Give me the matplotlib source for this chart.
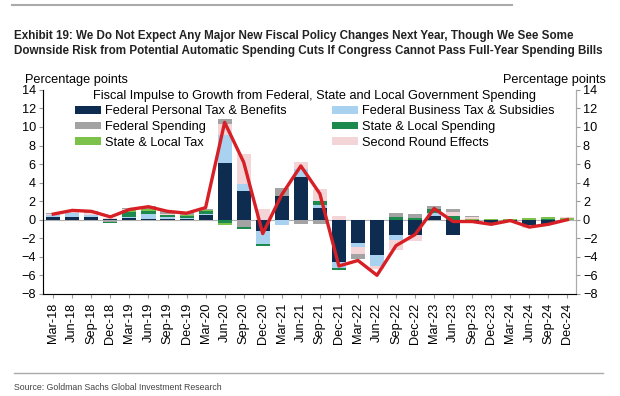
import numpy as np
import matplotlib.pyplot as plt
from matplotlib.lines import Line2D

plt.rcParams['font.family'] = ['Liberation Sans', 'DejaVu Sans']

quarters = ['Mar-18', 'Jun-18', 'Sep-18', 'Dec-18', 'Mar-19', 'Jun-19', 'Sep-19', 'Dec-19',
            'Mar-20', 'Jun-20', 'Sep-20', 'Dec-20', 'Mar-21', 'Jun-21', 'Sep-21', 'Dec-21',
            'Mar-22', 'Jun-22', 'Sep-22', 'Dec-22', 'Mar-23', 'Jun-23', 'Sep-23', 'Dec-23',
            'Mar-24', 'Jun-24', 'Sep-24', 'Dec-24']

fed_personal = [0.3, 0.3, 0.3, 0.1, 0.2, 0.1, 0.1, 0.1, 0.5, 6.1, 3.1, -1.2, 2.5, 4.6, 1.3, -4.6,
                -2.5, -3.8, -1.7, -1.7, 0.4, -1.7, -0.1, -0.5, -0.1, -0.6, -0.5, 0.0]
fed_business = [0.2, 0.4, 0.2, 0.0, 0.1, 0.5, 0.2, 0.1, 0.1, 3.0, 0.8, -1.4, -0.6, 0.9, 0.3, -0.6,
                -0.4, -1.2, -0.5, 0.0, 0.3, 0.0, 0.0, 0.0, 0.0, 0.0, 0.0, 0.0]
fed_spending = [0.1, 0.1, 0.2, -0.2, 0.2, 0.4, 0.3, 0.3, 0.2, 0.6, -0.8, 0.0, 0.9, -0.5, -0.5, 0.0,
                -0.5, 0.0, 0.4, 0.4, 0.4, 0.3, 0.1, 0.0, 0.0, 0.0, 0.0, 0.0]
sl_spending = [0.0, 0.0, 0.0, -0.2, 0.5, 0.3, 0.2, 0.2, 0.3, -0.4, -0.2, -0.2, 0.0, 0.0, 0.4, -0.2,
               0.0, 0.0, 0.3, 0.2, 0.4, 0.4, 0.0, 0.0, 0.0, 0.0, 0.1, 0.0]
sl_tax = [0.0, 0.0, 0.0, 0.0, 0.2, 0.2, 0.0, 0.1, 0.1, -0.2, 0.0, 0.0, 0.0, 0.0, 0.0, 0.0,
          0.0, 0.0, 0.0, 0.0, 0.0, 0.0, 0.1, 0.1, 0.1, 0.2, 0.2, 0.2]
second_round = [0.1, 0.2, 0.2, 0.1, 0.1, 0.0, 0.1, 0.0, 0.0, 1.2, 3.2, 1.2, 0.0, 0.7, 1.3, 0.4,
                -0.8, -0.3, -1.1, -0.6, 0.0, 0.4, 0.2, 0.0, 0.0, -0.3, 0.0, 0.1]
total = [0.6, 1.0, 0.9, 0.3, 1.1, 1.4, 0.9, 0.7, 1.3, 10.5, 6.2, -1.5, 2.7, 5.8, 2.8, -5.0,
         -4.4, -6.0, -2.8, -1.6, 1.2, -0.2, -0.2, -0.5, -0.1, -0.8, -0.5, 0.0]

series = {
    'Federal Personal Tax & Benefits': (fed_personal, '#0d2c50'),
    'Federal Business Tax & Subsidies': (fed_business, '#a9d2f0'),
    'Federal Spending': (fed_spending, '#a3a3a3'),
    'State & Local Spending': (sl_spending, '#1b8a4c'),
    'State & Local Tax': (sl_tax, '#7cc24a'),
    'Second Round Effects': (second_round, '#f3d5d7'),
}
pos_order = ['Federal Personal Tax & Benefits', 'Federal Business Tax & Subsidies',
             'State & Local Spending', 'State & Local Tax', 'Second Round Effects', 'Federal Spending']
neg_order = ['Federal Personal Tax & Benefits', 'Federal Business Tax & Subsidies',
             'Second Round Effects', 'Federal Spending', 'State & Local Spending', 'State & Local Tax']

fs = 9.2
x = np.arange(len(quarters))
fig = plt.figure(figsize=(6.2, 3.96), dpi=100)
ax = fig.add_axes([0.069, 0.258, 0.86, 0.515])

handles = {}
pos_bot = np.zeros(len(x))
for name in pos_order:
    vals, col = series[name]
    v = np.clip(np.array(vals), 0, None)
    handles[name] = ax.bar(x, v, 0.74, bottom=pos_bot, color=col, zorder=2)
    pos_bot += v
neg_bot = np.zeros(len(x))
for name in neg_order:
    vals, col = series[name]
    v = np.clip(np.array(vals), None, 0)
    ax.bar(x, v, 0.74, bottom=neg_bot, color=col, zorder=2)
    neg_bot += v

ax.axhline(0, color='#b0b0b0', lw=0.8, zorder=1)
ax.plot(x, total, color='#d71f26', lw=2.4, zorder=3)

ax.set_xlim(-0.55, 27.45)
ax.set_ylim(-8, 14)
ax.set_yticks(range(-8, 15, 2))
ax.set_xticks(x)
ax.set_xticklabels(quarters, rotation=90, fontsize=fs)
ax.tick_params(axis='y', labelsize=fs, length=3, color='#999999', pad=2)
ax.tick_params(axis='x', length=3, color='#999999')
ax.spines['top'].set_visible(False)
for s in ['left', 'right', 'bottom']:
    ax.spines[s].set_color('#aaaaaa')
ax2 = ax.twinx()
ax2.set_ylim(-8, 14)
ax2.set_yticks(range(-8, 15, 2))
ax2.tick_params(axis='y', labelsize=fs, length=3, color='#999999', pad=2)
ax2.spines['top'].set_visible(False)
ax2.spines['right'].set_color('#aaaaaa')

legend_names = ['Federal Personal Tax & Benefits', 'Federal Spending', 'State & Local Tax',
                'Federal Business Tax & Subsidies', 'State & Local Spending', 'Second Round Effects']
leg = ax.legend([handles[n] for n in legend_names], legend_names, ncol=2, loc='upper center',
                bbox_to_anchor=(0.51, 1.035), frameon=False, fontsize=fs,
                title='Fiscal Impulse to Growth from Federal, State and Local Government Spending',
                title_fontsize=fs, handlelength=2.0, handleheight=0.55, handletextpad=0.3,
                labelspacing=0.3, columnspacing=3.6, borderpad=0.1)
leg._legend_box.sep = 2

fig.text(0.04, 0.782, 'Percentage points', fontsize=fs, va='bottom')
fig.text(0.978, 0.782, 'Percentage points', fontsize=fs, va='bottom', ha='right')

fig.text(0.023, 0.925, 'Exhibit 19: We Do Not Expect Any Major New Fiscal Policy Changes Next Year, Though We See Some\n'
         'Downside Risk from Potential Automatic Spending Cuts If Congress Cannot Pass Full-Year Spending Bills',
         fontsize=8.4, fontweight='bold', family=['Liberation Sans Narrow', 'Liberation Sans', 'DejaVu Sans'],
         va='top', linespacing=1.35, color='#222222')
fig.add_artist(Line2D([0.02, 0.825], [0.987, 0.987], color='#aaaaaa', lw=1.5))
fig.add_artist(Line2D([0.023, 0.973], [0.058, 0.058], color='#aaaaaa', lw=1.0))
fig.text(0.023, 0.015, 'Source: Goldman Sachs Global Investment Research', fontsize=6.3,
         family=['Liberation Sans Narrow', 'Liberation Sans', 'DejaVu Sans'], color='#444444')

fig.savefig('out.png', dpi=100)
